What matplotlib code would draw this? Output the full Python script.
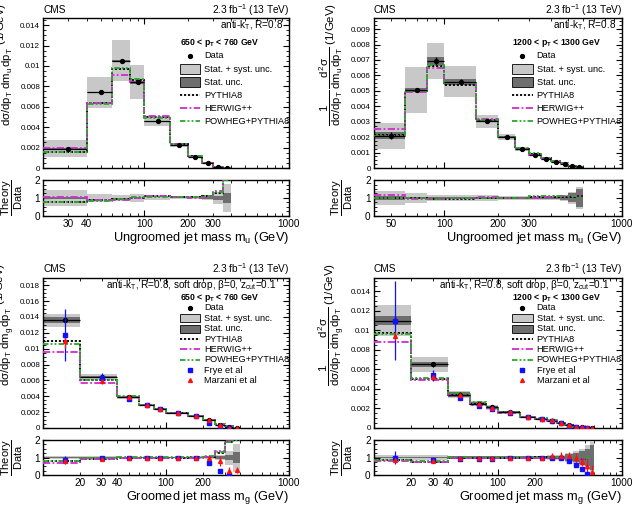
import numpy as np
import matplotlib
matplotlib.use("Agg")
import matplotlib.pyplot as plt
from matplotlib.patches import Rectangle
from matplotlib.lines import Line2D
from matplotlib.ticker import FixedLocator, FuncFormatter, MultipleLocator, NullFormatter

plt.rcParams['font.family'] = ['Liberation Sans', 'DejaVu Sans']
plt.rcParams['mathtext.fontset'] = 'custom'
plt.rcParams['mathtext.rm'] = 'Liberation Sans'
plt.rcParams['mathtext.it'] = 'Liberation Sans'
plt.rcParams['mathtext.bf'] = 'Liberation Sans:bold'

# ---------------- data ----------------
# Panel 1: ungroomed, 650 < pT < 760 GeV
edges1 = [20, 40, 60, 80, 100, 150, 200, 250, 300, 350, 400]
data1 = [0.0019, 0.0074, 0.0105, 0.0084, 0.0046, 0.00225, 0.0011, 0.00046, 0.00008, 0.00002]
tot1 = [0.45, 0.2, 0.19, 0.2, 0.1, 0.08, 0.08, 0.1, 0.35, 0.8]
stat1 = [0.03, 0.01, 0.01, 0.015, 0.01, 0.01, 0.015, 0.03, 0.1, 0.3]
pythia1 = [0.00152, 0.0064, 0.0097, 0.0086, 0.0050, 0.00236, 0.00116, 0.00051, 0.000104, 0.00004]
herwig1 = [0.0020, 0.0064, 0.0091, 0.0084, 0.0051, 0.00236, 0.00112, 0.00048, 0.000112, 0.000042]
powheg1 = [0.00152, 0.0063, 0.0098, 0.0087, 0.0049, 0.00236, 0.00117, 0.00051, 0.000108, 0.00004]

# Panel 2: ungroomed, 1200 < pT < 1300 GeV
edges2 = [40, 60, 80, 100, 150, 200, 250, 300, 350, 400, 450, 500, 550, 600]
data2 = [0.0021, 0.00505, 0.00694, 0.0056, 0.00304, 0.00201, 0.00125, 0.00085, 0.0006, 0.0004, 0.00028, 0.00014, 0.00004]
tot2 = [0.4, 0.3, 0.17, 0.18, 0.14, 0.1, 0.1, 0.1, 0.1, 0.12, 0.15, 0.35, 0.6]
stat2 = [0.12, 0.03, 0.035, 0.035, 0.03, 0.03, 0.03, 0.04, 0.05, 0.06, 0.1, 0.25, 0.5]
pythia2 = [0.00215, 0.0050, 0.0066, 0.0054, 0.0031, 0.0020, 0.00125, 0.00088, 0.00064, 0.00043, 0.00030, 0.00015, 0.000044]
herwig2 = [0.0025, 0.0049, 0.0065, 0.0055, 0.0032, 0.00198, 0.00124, 0.00086, 0.00063, 0.00044, 0.00031, 0.000155, 0.000048]
powheg2 = [0.0021, 0.0050, 0.0067, 0.0055, 0.0031, 0.00202, 0.00127, 0.00094, 0.00066, 0.00045, 0.00031, 0.000155, 0.000044]

# Panel 3: groomed, 650 < pT < 760 GeV
edges3 = [10, 20, 40, 60, 80, 100, 150, 200, 250, 300, 350, 400]
data3 = [0.0136, 0.0064, 0.0039, 0.0029, 0.0024, 0.0019, 0.0015, 0.0010, 0.0004, 0.0001, 0.00003]
tot3 = [0.06, 0.06, 0.05, 0.05, 0.05, 0.05, 0.06, 0.08, 0.15, 0.4, 0.8]
stat3 = [0.03, 0.02, 0.015, 0.015, 0.015, 0.015, 0.02, 0.03, 0.06, 0.15, 0.3]
pythia3 = [0.0110, 0.0060, 0.0039, 0.0029, 0.0024, 0.0019, 0.00153, 0.00105, 0.0005, 0.00019, 0.00006]
herwig3 = [0.0096, 0.0057, 0.0039, 0.0029, 0.0024, 0.0019, 0.0015, 0.00105, 0.00056, 0.0002, 0.00006]
powheg3 = [0.0106, 0.0061, 0.0040, 0.00296, 0.00245, 0.00194, 0.00155, 0.00107, 0.00052, 0.00019, 0.00006]
frye3 = [0.0117, 0.0063, 0.0037, 0.0029, 0.0024, 0.0019, 0.00145, 0.00068, 0.0001, 0.0, np.nan]
frye3_err = [0.0033, 0.0006, 0.0001, 0.00008, 0.00006, 0.00005, 0.00004, 0.00005, 0.00002, 0.00001, np.nan]
marz3 = [0.0109, 0.0059, 0.0039, 0.0029, 0.0024, 0.0019, 0.0015, 0.00095, 0.00032, 0.000025, 0.000008]
marz3_err = [0.0008, 0.0003, 0.0001, 0.00008, 0.00006, 0.00005, 0.00006, 0.00012, 0.00012, 0.00002, 0.000005]

# Panel 4: groomed, 1200 < pT < 1300 GeV
edges4 = [10, 20, 40, 60, 80, 100, 150, 200, 250, 300, 350, 400, 450, 500, 550, 600]
data4 = [0.0110, 0.0065, 0.0034, 0.0025, 0.0021, 0.0016, 0.00115, 0.00093, 0.00075, 0.0005, 0.0003, 0.00015, 0.00008, 0.00003, 0.00001]
tot4 = [0.14, 0.12, 0.1, 0.1, 0.1, 0.1, 0.1, 0.1, 0.12, 0.15, 0.25, 0.35, 0.5, 0.7, 0.9]
stat4 = [0.04, 0.04, 0.07, 0.07, 0.07, 0.07, 0.07, 0.07, 0.08, 0.1, 0.18, 0.25, 0.35, 0.5, 0.7]
pythia4 = [0.0097, 0.0050, 0.0034, 0.0025, 0.0021, 0.0016, 0.00115, 0.00095, 0.00075, 0.0005, 0.0003, 0.000143, 0.000072, 0.000027, 0.000009]
herwig4 = [0.0088, 0.0049, 0.00333, 0.0024, 0.0020, 0.00155, 0.00113, 0.00093, 0.00073, 0.000475, 0.000285, 0.000135, 0.000072, 0.000027, 0.000009]
powheg4 = [0.0096, 0.0051, 0.00357, 0.00263, 0.00216, 0.00163, 0.00117, 0.00098, 0.00079, 0.000525, 0.0003, 0.00015, 0.000076, 0.0000285, 0.000009]
frye4 = [0.0110, 0.0054, 0.00306, 0.0023, 0.0019, 0.00152, 0.00115, 0.0009, 0.00071, 0.000475, 0.00024, 0.00009, 0.000028, 0.0000015, np.nan]
frye4_err = [0.0040, 0.00055, 0.0001, 0.00008, 0.00006, 0.00005, 0.00004, 0.00004, 0.00004, 0.00004, 0.00003, 0.00002, 0.00001, 0.000002, np.nan]
marz4 = [0.0094, 0.0052, 0.0034, 0.0025, 0.0020, 0.0016, 0.00115, 0.00093, 0.00083, 0.00055, 0.00033, 0.00015, 0.00006, 0.000015, 0.000002]
marz4_err = [0.0004, 0.0002, 0.0001, 0.00008, 0.00006, 0.00005, 0.00005, 0.00008, 0.00012, 0.0001, 0.00006, 0.00004, 0.00002, 0.00001, 0.000004]

xticklabels_ungroomed1 = [30, 40, 100, 200, 300, 1000]
xticklabels_ungroomed2 = [50, 100, 200, 300, 1000]
xticklabels_groomed = [20, 30, 40, 100, 200, 1000]

# ---------------- style ----------------
C_LIGHT = '#c8c8c8'
C_DARK = '#6e6e6e'
C_HERWIG = '#d22ad2'
C_POWHEG = '#28a828'
LS_PYTHIA = (0, (1.2, 1.0))
LS_HERWIG = (0, (4, 1.3, 1, 1.3))
LS_POWHEG = (0, (3, 1.2, 1, 1.2, 1, 1.2))

W, H = 633, 505
fig = plt.figure(figsize=(W / 100, H / 100), dpi=100)


def fbox(l, t, r, b):
    return [l / W, 1 - b / H, (r - l) / W, (b - t) / H]


def style_axes(ax, xlabels, xlim, show_labels):
    ax.set_xscale('log')
    ax.set_xlim(*xlim)
    ax.xaxis.set_major_locator(FixedLocator([10, 100, 1000]))
    minors = [k * 10 ** e for e in (1, 2) for k in range(2, 10)]
    ax.xaxis.set_minor_locator(FixedLocator(minors))
    if show_labels:
        fmt = FuncFormatter(lambda v, p: ('%d' % round(v)) if round(v) in xlabels else '')
        ax.xaxis.set_major_formatter(fmt)
        ax.xaxis.set_minor_formatter(fmt)
    else:
        ax.xaxis.set_major_formatter(NullFormatter())
        ax.xaxis.set_minor_formatter(NullFormatter())
    ax.tick_params(which='both', direction='in', top=True, right=True)
    ax.tick_params(which='major', length=4.5, width=0.8)
    ax.tick_params(which='minor', length=2.3, width=0.6)
    for s in ax.spines.values():
        s.set_linewidth(1.0)


def draw_panel(col, row, edges, data, tot, stat, mcs, ymax, ymaj, ymin_, xlim, xlabels,
               theory=None, pt_text='', alg_text='', xlabel='', ylab_sub='u'):
    edges = np.array(edges, float)
    data = np.array(data, float)
    tot = np.array(tot, float)
    stat = np.array(stat, float)
    lo, hi = edges[:-1], edges[1:]
    wid = hi - lo
    ctr = 0.5 * (lo + hi)
    xoff = 0 if col == 0 else 331
    if row == 0:
        mt, mb, rt, rb = 18, 168, 180, 216
    else:
        mt, mb, rt, rb = 278, 428, 440, 475
    l = 43 + xoff - (0 if col == 0 else 0.5)
    r = 289 + xoff + (0 if col == 0 else 2)
    ax = fig.add_axes(fbox(l, mt, r, mb))
    rx = fig.add_axes(fbox(l, rt, r, rb))

    # main bands
    ax.bar(lo, 2 * tot * data, bottom=data * (1 - tot), width=wid, align='edge', color=C_LIGHT, lw=0, zorder=1)
    ax.bar(lo, 2 * stat * data, bottom=data * (1 - stat), width=wid, align='edge', color=C_DARK, lw=0, zorder=2)
    for vals, c, ls in mcs:
        ax.stairs(np.array(vals, float), edges, color=c, ls=ls, lw=1.3, baseline=None, zorder=3)
    ax.errorbar(ctr, data, xerr=[ctr - lo, hi - ctr], yerr=stat * data, fmt='o', color='black',
                ms=2.8, lw=0.9, capsize=0, zorder=5)
    if theory is not None:
        (fv, fe), (mv, me) = theory
        fv, fe, mv, me = map(lambda a: np.array(a, float), (fv, fe, mv, me))
        ax.errorbar(ctr, fv, yerr=fe, fmt='s', color='#1010ff', ms=2.6, lw=0.9, capsize=0, zorder=6)
        ax.errorbar(ctr, mv, yerr=me, fmt='^', color='#ff1010', ms=2.8, lw=0.9, capsize=0, zorder=6)
    ax.set_ylim(0, ymax)
    style_axes(ax, xlabels, xlim, False)
    ax.yaxis.set_major_locator(MultipleLocator(ymaj))
    ax.yaxis.set_minor_locator(MultipleLocator(ymin_))
    ax.yaxis.set_major_formatter(FuncFormatter(lambda v, p: '%g' % round(v, 6)))
    ax.tick_params(axis='y', labelsize=5.8, pad=2)

    # ratio
    rx.bar(lo, 2 * tot, bottom=1 - tot, width=wid, align='edge', color=C_LIGHT, lw=0, zorder=1)
    rx.bar(lo, 2 * stat, bottom=1 - stat, width=wid, align='edge', color=C_DARK, lw=0, zorder=2)
    for vals, c, ls in mcs:
        rx.stairs(np.array(vals, float) / data, edges, color=c, ls=ls, lw=1.3, baseline=None, zorder=3)
    if theory is not None:
        rx.errorbar(ctr, fv / data, yerr=fe / data, fmt='s', color='#1010ff', ms=2.6, lw=0.9, capsize=0, zorder=6)
        rx.errorbar(ctr, mv / data, yerr=me / data, fmt='^', color='#ff1010', ms=2.8, lw=0.9, capsize=0, zorder=6)
    rx.set_ylim(0, 2)
    style_axes(rx, xlabels, xlim, True)
    rx.yaxis.set_major_locator(FixedLocator([0, 1, 2]))
    rx.yaxis.set_minor_locator(MultipleLocator(0.25))
    rx.tick_params(which='major', length=4)
    rx.tick_params(axis='both', which='both', labelsize=7.2, pad=2)
    rx.tick_params(axis='x', which='both', pad=2.5)

    # texts
    ytop = 10 if row == 0 else 269
    fig.text(l / W, 1 - ytop / H, 'CMS', fontsize=7.3, va='center', ha='left')
    fig.text(r / W, 1 - ytop / H, r'2.3 fb$^{-1}$ (13 TeV)', fontsize=7.3, va='center', ha='right')
    ax.text(0.976 if row == 0 else 0.95, 0.953, alg_text, transform=ax.transAxes, ha='right', va='center',
            fontsize=7.2)
    ax.text(0.557, 0.835 if row == 0 else 0.867, pt_text, transform=ax.transAxes, ha='left', va='center',
            fontsize=6.2, fontweight='bold')
    # y labels
    ylab = (r'$\dfrac{1}{d\sigma/dp_{T}}\,\dfrac{d^{2}\sigma}{dm_{%s}\,dp_{T}}$ (1/GeV)' % ylab_sub)
    fig.text((l - 42) / W, 1 - (mt - 15) / H, ylab, rotation=90, ha='center', va='top', fontsize=8.2)
    fig.text((l - 31) / W, 1 - ((rt + rb) / 2) / H, r'$\dfrac{\mathrm{Theory}}{\mathrm{Data}}$', rotation=90,
             ha='center', va='center', fontsize=8.0)
    fig.text(r / W, 1 - (rb + 22) / H, xlabel, ha='right', va='center', fontsize=9.2)

    # legend (manual)
    entries = [('data', 'Data'), ('light', 'Stat. + syst. unc.'), ('dark', 'Stat. unc.'),
               ('pythia', 'PYTHIA8'), ('herwig', 'HERWIG++'), ('powheg', 'POWHEG+PYTHIA8')]
    if theory is not None:
        entries += [('frye', 'Frye et al'), ('marz', 'Marzani et al')]
    if row == 0:
        y0, dy, bh = 0.747, 0.087, 0.062
    else:
        y0, dy, bh = 0.80, 0.069, 0.052
    bx0, bx1, tx = 0.557, 0.64, 0.656
    for i, (kind, lab) in enumerate(entries):
        y = y0 - i * dy
        if kind == 'data':
            ax.plot([(bx0 + bx1) / 2], [y], 'o', color='black', ms=2.8, transform=ax.transAxes, clip_on=False)
        elif kind in ('light', 'dark'):
            ax.add_patch(Rectangle((bx0, y - bh / 2), bx1 - bx0, bh, transform=ax.transAxes,
                                   facecolor=C_LIGHT if kind == 'light' else C_DARK, edgecolor='black', lw=0.6,
                                   zorder=4))
        elif kind == 'pythia':
            ax.add_line(Line2D([bx0, bx1], [y, y], color='black', ls=LS_PYTHIA, lw=1.3, transform=ax.transAxes))
        elif kind == 'herwig':
            ax.add_line(Line2D([bx0, bx1], [y, y], color=C_HERWIG, ls=LS_HERWIG, lw=1.3, transform=ax.transAxes))
        elif kind == 'powheg':
            ax.add_line(Line2D([bx0, bx1], [y, y], color=C_POWHEG, ls=LS_POWHEG, lw=1.3, transform=ax.transAxes))
        elif kind == 'frye':
            ax.plot([(bx0 + bx1) / 2], [y], 's', color='#1010ff', ms=2.6, transform=ax.transAxes, clip_on=False)
        elif kind == 'marz':
            ax.plot([(bx0 + bx1) / 2], [y], '^', color='#ff1010', ms=2.8, transform=ax.transAxes, clip_on=False)
        ax.text(tx, y, lab, transform=ax.transAxes, ha='left', va='center', fontsize=6.6)
    return ax, rx


def mc(p, h, w):
    return [(p, 'black', LS_PYTHIA), (h, C_HERWIG, LS_HERWIG), (w, C_POWHEG, LS_POWHEG)]


draw_panel(0, 0, edges1, data1, tot1, stat1, mc(pythia1, herwig1, powheg1), 0.0147, 0.002, 0.0005,
           (20, 1000), xticklabels_ungroomed1, None, r'650 < p$_{\mathbf{T}}$ < 760 GeV',
           r'anti-k$_{T}$, R=0.8', r'Ungroomed jet mass m$_{u}$ (GeV)', 'u')
draw_panel(1, 0, edges2, data2, tot2, stat2, mc(pythia2, herwig2, powheg2), 0.00972, 0.001, 0.00025,
           (40, 1000), xticklabels_ungroomed2, None, r'1200 < p$_{\mathbf{T}}$ < 1300 GeV',
           r'anti-k$_{T}$, R=0.8', r'Ungroomed jet mass m$_{u}$ (GeV)', 'u')
draw_panel(0, 1, edges3, data3, tot3, stat3, mc(pythia3, herwig3, powheg3), 0.0189, 0.002, 0.0005,
           (10, 1000), xticklabels_groomed, ((frye3, frye3_err), (marz3, marz3_err)),
           r'650 < p$_{\mathbf{T}}$ < 760 GeV',
           r'anti-k$_{T}$, R=0.8, soft drop, $\beta$=0, z$_{cut}$=0.1', r'Groomed jet mass m$_{g}$ (GeV)', 'g')
draw_panel(1, 1, edges4, data4, tot4, stat4, mc(pythia4, herwig4, powheg4), 0.01535, 0.002, 0.0005,
           (10, 1000), xticklabels_groomed, ((frye4, frye4_err), (marz4, marz4_err)),
           r'1200 < p$_{\mathbf{T}}$ < 1300 GeV',
           r'anti-k$_{T}$, R=0.8, soft drop, $\beta$=0, z$_{cut}$=0.1', r'Groomed jet mass m$_{g}$ (GeV)', 'g')

fig.savefig('out.png', dpi=100)
